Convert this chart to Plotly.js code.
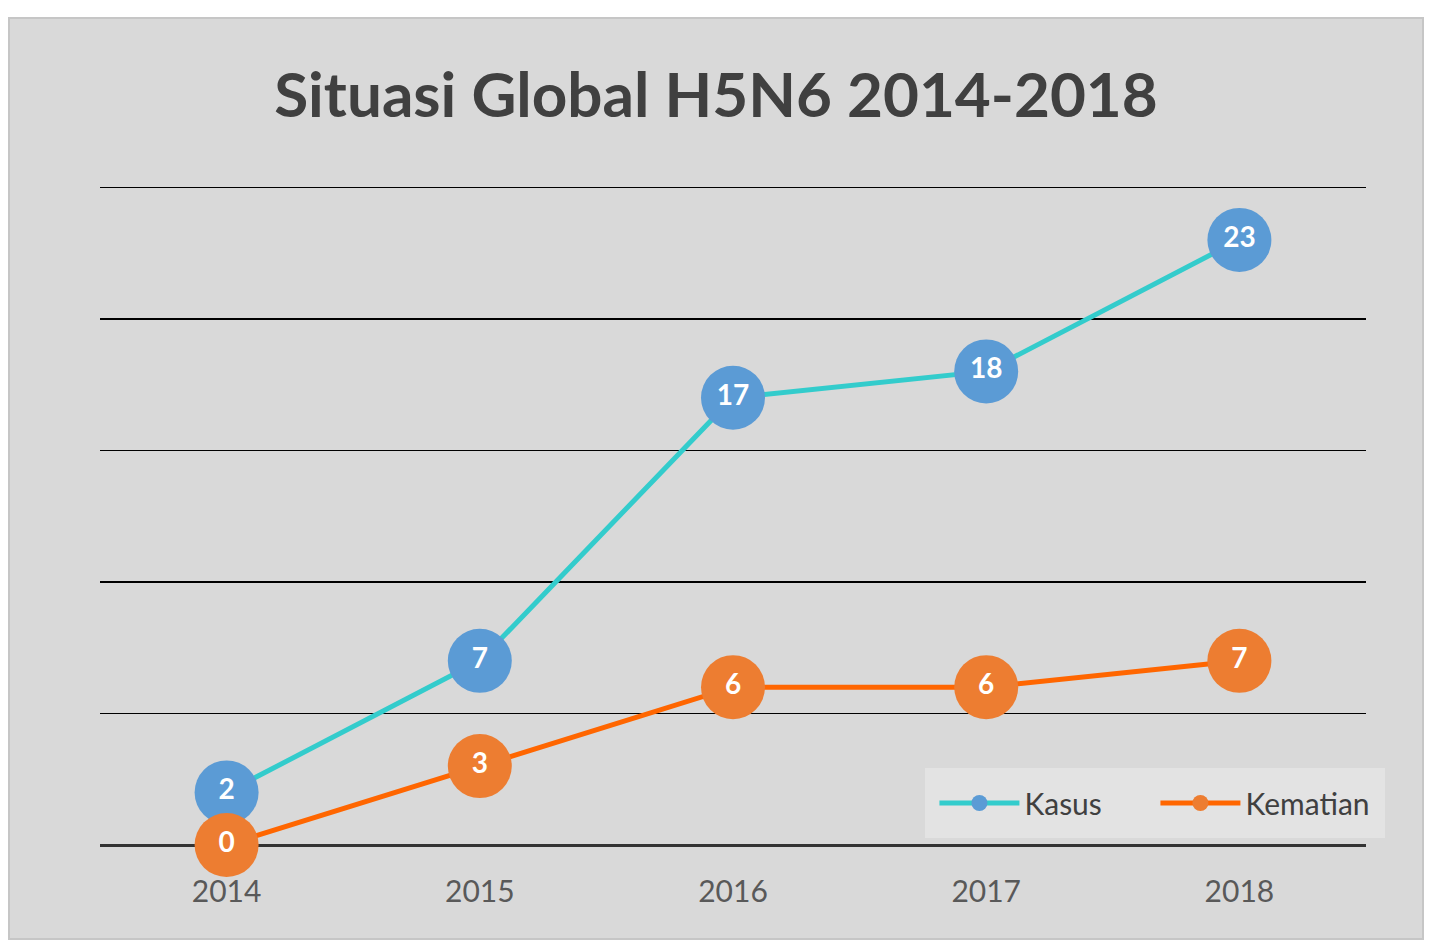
<!DOCTYPE html>
<html>
<head>
<meta charset="utf-8">
<script src="https://cdn.plot.ly/plotly-3.0.1.min.js"></script>
<style>
  html, body { margin: 0; padding: 0; background: #ffffff; width: 1442px; height: 949px; overflow: hidden; }
  #frame { position: absolute; left: 8px; top: 17px; width: 1416px; height: 923px; box-sizing: border-box; border: 2px solid #c6c6c6; background: #d9d9d9; }
  #chart { width: 1412px; height: 919px; }
</style>
</head>
<body>
<div id="frame"><div id="chart"></div></div>
<script>
const years = ["2014", "2015", "2016", "2017", "2018"];
const kasus = [2, 7, 17, 18, 23];
const kematian = [0, 3, 6, 6, 7];
const chartTitle = "Situasi Global H5N6 2014-2018";

const FONT = "Lato, 'Open Sans', sans-serif";

const traces = [
  {
    name: "Kasus", x: years, y: kasus, type: "scatter", mode: "lines+markers+text",
    line: { color: "#33CCCC", width: 5 },
    marker: { color: "#5B9BD5", size: 64 },
    text: kasus.map(String), texttemplate: "<b>%{text}</b>",
    textposition: "middle center",
    textfont: { color: "#ffffff", size: 28, family: FONT },
    cliponaxis: false, hoverinfo: "x+y"
  },
  {
    name: "Kematian", x: years, y: kematian, type: "scatter", mode: "lines+markers+text",
    line: { color: "#FF6600", width: 5 },
    marker: { color: "#ED7D31", size: 64 },
    text: kematian.map(String), texttemplate: "<b>%{text}</b>",
    textposition: "middle center",
    textfont: { color: "#ffffff", size: 28, family: FONT },
    cliponaxis: false, hoverinfo: "x+y"
  }
];

const layout = {
  width: 1412, height: 919,
  paper_bgcolor: "#d9d9d9", plot_bgcolor: "#d9d9d9",
  margin: { l: 90, r: 56, t: 163, b: 93, autoexpand: false },
  font: { family: FONT, color: "#404040" },
  title: {
    text: "<b>" + chartTitle + "</b>",
    font: { size: 62, color: "#404040", family: FONT },
    xref: "container", x: 0.5, xanchor: "center",
    yref: "container", y: 0.917, yanchor: "middle"
  },
  xaxis: {
    type: "category", range: [-0.5, 4.5],
    showgrid: false, zeroline: false, showline: false,
    ticks: "", tickfont: { size: 30, color: "#595959", family: FONT },
    ticklabelstandoff: 26, fixedrange: true
  },
  yaxis: {
    range: [0, 25.2], tickvals: [5, 10, 15, 20, 25], showticklabels: false,
    showgrid: true, gridcolor: "#000000", gridwidth: 1.5,
    zeroline: true, zerolinecolor: "#333333", zerolinewidth: 3,
    showline: false, ticks: "", fixedrange: true
  },
  showlegend: true,
  legend: {
    orientation: "h", x: 0.652, xanchor: "left", y: 0.0106, yanchor: "bottom",
    bgcolor: "#e3e3e3", bordercolor: "#e3e3e3", borderwidth: 9,
    font: { size: 30, color: "#404040", family: FONT },
    itemwidth: 80, entrywidth: 126, entrywidthmode: "pixels",
    itemclick: false, itemdoubleclick: false
  }
};

Plotly.newPlot("chart", traces, layout, { displayModeBar: false, staticPlot: true });
</script>
</body>
</html>
